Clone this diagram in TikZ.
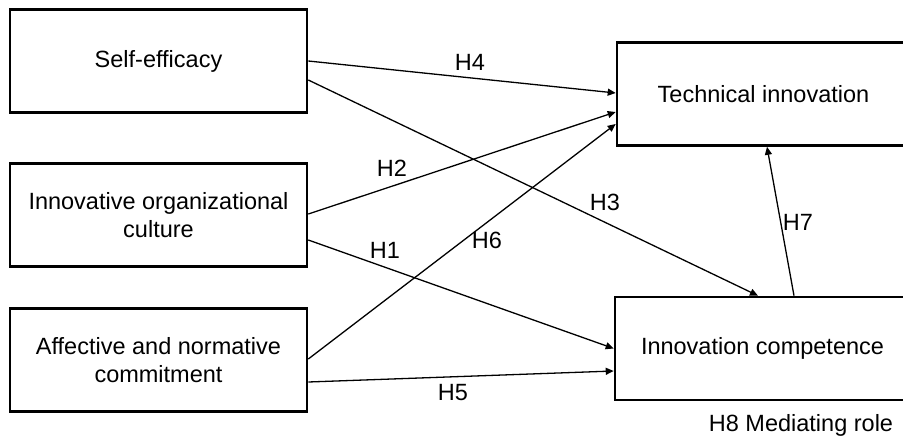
\documentclass[tikz,border=0pt]{standalone}
\usepackage{fontspec}
\setmainfont{Liberation Sans}
\usetikzlibrary{arrows.meta,calc}
\begin{document}
\begin{tikzpicture}[x=1pt,y=-1pt,
  every node/.style={font=\fontsize{23.5}{28}\selectfont, inner sep=0pt},
  box/.style={draw, line width=2.6pt, align=center, minimum height=103pt},
  lbox/.style={box, minimum width=297pt},
  rbox/.style={box, minimum width=293pt},
  link/.style={line width=1.3pt, -{Triangle[length=8pt,width=7pt]}},
  hlabel/.style={}]
\useasboundingbox (0,0) rectangle (903,439);
\clip (0,0) rectangle (903,439);
\fill[white] (0,0) rectangle (903,439);
% left boxes
\node[lbox] (se) at (158.5,61) {Self-efficacy};
\node[lbox] (oc) at (158.5,215) {Innovative organizational\\culture};
\node[lbox] (ac) at (158.5,360) {Affective and normative\\commitment};
% right boxes
\node[rbox] (ti) at (763.5,94) {Technical innovation};
\node[rbox, minimum width=295pt] (ic) at (762.5,348.5) {Innovation competence};
% connectors
\draw[link] (se.east) -- ([yshift=1pt]ti.west);
\draw[link] ([yshift=-19pt]se.east) -- ([xshift=-4.5pt]ic.north);
\draw[link] ([yshift=1pt]oc.east) -- ([yshift=-18pt]ti.west);
\draw[link] ([yshift=-25pt]oc.east) -- (ic.west);
\draw[link] ([yshift=1pt]ac.east) -- ([yshift=-30pt]ti.west);
\draw[link] ([yshift=-22pt]ac.east) -- ([yshift=-22.5pt]ic.west);
\draw[link] ([xshift=31.5pt]ic.north) -- ([xshift=3.5pt]ti.south);
% labels
\node[hlabel] (h4) at (470,62) {H4};
\node[hlabel] (h3) at (605,202) {H3};
\node[hlabel] (h2) at (392,168) {H2};
\node[hlabel] (h1) at (385,250) {H1};
\node[hlabel] (h6) at (487,240) {H6};
\node[hlabel] (h5) at (453,393) {H5};
\node[hlabel] (h7) at (798,222) {H7};
\node[hlabel] (h8) at (801,425) {H8 Mediating role};
\end{tikzpicture}
\end{document}
